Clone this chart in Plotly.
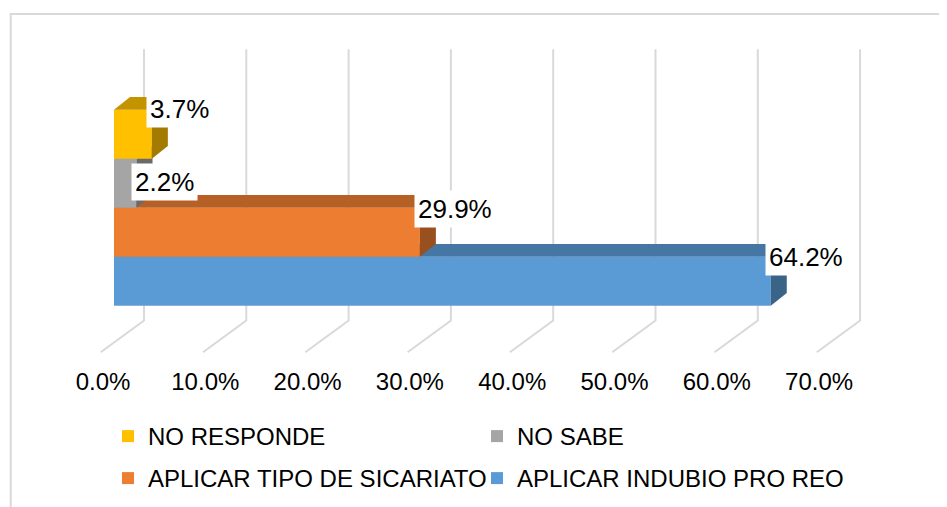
import plotly.graph_objects as go

# ---------------- data ----------------
CATEGORIES = ["APLICAR INDUBIO PRO REO", "APLICAR TIPO DE SICARIATO", "NO SABE", "NO RESPONDE"]
VALUES = [64.2, 29.9, 2.2, 3.7]          # percent
TICK_VALUES = [0, 10, 20, 30, 40, 50, 60, 70]
TICK_LABELS = ["0.0%", "10.0%", "20.0%", "30.0%", "40.0%", "50.0%", "60.0%", "70.0%"]

# ---------------- style ----------------
FRONT = ["#5B9BD5", "#ED7D31", "#A5A5A5", "#FFC000"]
TOP = ["#4677A4", "#B66026", "#848484", "#C49400"]
SIDE = ["#3A6388", "#98501F", "#6A6A6A", "#A37B00"]
LEGEND_ROW = [2, 2, 1, 1]
LEGEND_RANK = [2, 1, 2, 1]
LABEL_YSHIFT = [0, -1, -23, 1]
FONT = "Liberation Sans, Arial, sans-serif"
GRID = "#D9D9D9"

PAGE_OFF = 8.0                      # default body margin of the html page
W, H = 947 - 8, 507 - 8


def sx(px):  # screen px -> figure px
    return px - PAGE_OFF


PLOT_BOTTOM = sx(365.0)
X0_PX, PX_PER_X = sx(114.0), 10.23
Y0_PX, PX_PER_Y = sx(281.2), 49.0

XR = [(0 - X0_PX) / PX_PER_X, (W - X0_PX) / PX_PER_X]
YR = [(Y0_PX - PLOT_BOTTOM) / PX_PER_Y, Y0_PX / PX_PER_Y]

DEPTH_DX = 16.0 / PX_PER_X
DEPTH_DY = 12.7 / PX_PER_Y
WALL_DX = (sx(144.0) - X0_PX) / PX_PER_X
FLOOR_DX = (sx(100.7) - X0_PX) / PX_PER_X
WALL_TOP = (Y0_PX - sx(49.3)) / PX_PER_Y
WALL_BOTTOM = (Y0_PX - sx(320.5)) / PX_PER_Y
FLOOR_FRONT = (Y0_PX - sx(352.3)) / PX_PER_Y


def py_to_paper(py_screen):
    return (PLOT_BOTTOM - sx(py_screen)) / PLOT_BOTTOM


fig = go.Figure()

# back wall + floor gridlines (base subplot, behind everything)
gx, gy = [], []
for t in TICK_VALUES:
    gx += [t + WALL_DX, t + WALL_DX, t + FLOOR_DX, None]
    gy += [WALL_TOP, WALL_BOTTOM, FLOOR_FRONT, None]
fig.add_trace(go.Scatter(x=gx, y=gy, mode="lines", line=dict(color=GRID, width=2),
                         showlegend=False, hoverinfo="skip"))

# bars: each series on its own overlaid subplot so lower bars sit behind upper bars
for i, (name, v) in enumerate(zip(CATEGORIES, VALUES)):
    n = i + 2
    xa, ya = f"x{n}", f"y{n}"
    top, bot = i + 0.5, i - 0.5
    fig.add_trace(go.Bar(x=[v], y=[i], orientation="h", width=1.0, name=name,
                         marker=dict(color=FRONT[i], line=dict(width=0)),
                         xaxis=xa, yaxis=ya,
                         legend="legend" if LEGEND_ROW[i] == 1 else "legend2",
                         legendrank=LEGEND_RANK[i], hoverinfo="skip"))
    # top face
    fig.add_trace(go.Scatter(x=[0, DEPTH_DX, v + DEPTH_DX, v, 0],
                             y=[top, top + DEPTH_DY, top + DEPTH_DY, top, top],
                             mode="lines", fill="toself", fillcolor=TOP[i],
                             line=dict(width=0, color=TOP[i]), xaxis=xa, yaxis=ya,
                             showlegend=False, hoverinfo="skip"))
    # right side face
    fig.add_trace(go.Scatter(x=[v, v, v + DEPTH_DX, v + DEPTH_DX, v],
                             y=[bot, top, top + DEPTH_DY, bot + DEPTH_DY, bot],
                             mode="lines", fill="toself", fillcolor=SIDE[i],
                             line=dict(width=0, color=SIDE[i]), xaxis=xa, yaxis=ya,
                             showlegend=False, hoverinfo="skip"))

# data labels
annotations = []
for i, v in enumerate(VALUES):
    annotations.append(dict(x=v, y=i + 0.5, xref="x", yref="y", text=f"{v:.1f}%",
                            showarrow=False, xanchor="left", yanchor="middle",
                            xshift=-6, yshift=LABEL_YSHIFT[i], bgcolor="white",
                            borderpad=3, font=dict(family=FONT, size=26, color="#000000")))

layout_axes = {}
for n in range(2, 6):
    layout_axes[f"xaxis{n}"] = dict(overlaying="x", range=XR, visible=False, fixedrange=True)
    layout_axes[f"yaxis{n}"] = dict(overlaying="y", range=YR, visible=False, fixedrange=True)

LEG_X = sx(108.0)
legend_common = dict(orientation="h", xanchor="left", yanchor="middle",
                     x=LEG_X / W, entrywidth=324, entrywidthmode="pixels",
                     bgcolor="rgba(0,0,0,0)", borderwidth=0,
                     font=dict(family=FONT, size=24, color="#000000"))

fig.update_layout(
    width=W, height=H,
    margin=dict(l=0, r=0, t=0, b=H - PLOT_BOTTOM),
    paper_bgcolor="white", plot_bgcolor="white",
    xaxis=dict(range=XR, tickvals=TICK_VALUES, ticktext=TICK_LABELS, showgrid=False,
               zeroline=False, showline=False, ticks="", ticklabelshift=-11,
               tickfont=dict(family=FONT, size=24, color="#000000"), fixedrange=True),
    yaxis=dict(range=YR, visible=False, fixedrange=True),
    legend=dict(legend_common, y=py_to_paper(436.5)),
    legend2=dict(legend_common, y=py_to_paper(478.5)),
    annotations=annotations,
    shapes=[dict(type="rect", xref="paper", yref="paper",
                 x0=sx(10.7) / W, x1=(W + 20) / W, y0=py_to_paper(14), y1=py_to_paper(540),
                 line=dict(color=GRID, width=2), fillcolor="rgba(0,0,0,0)", layer="below")],
    **layout_axes,
)

fig.write_html("out.html")
